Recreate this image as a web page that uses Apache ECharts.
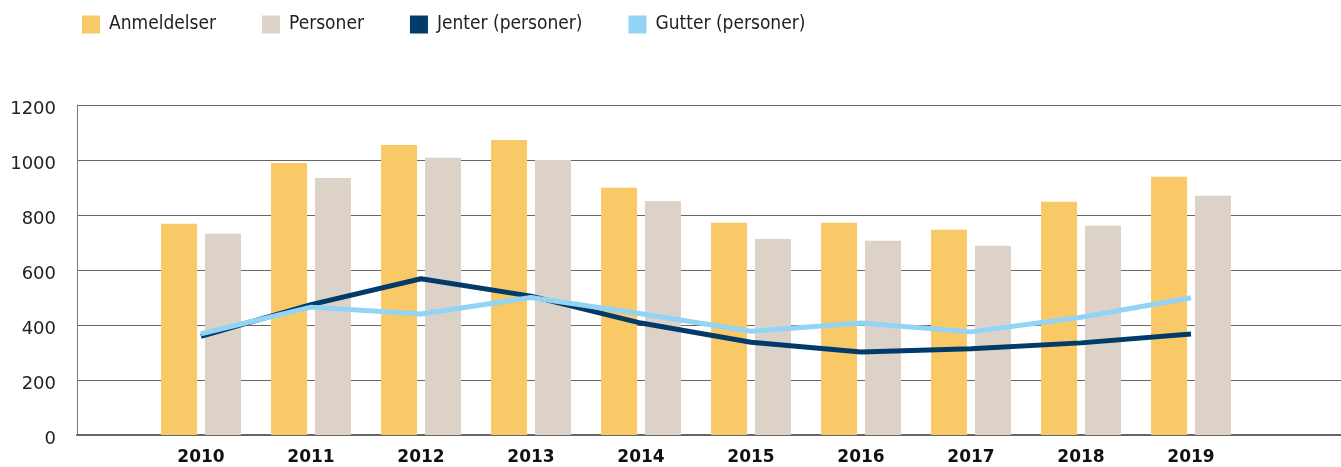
<!DOCTYPE html>
<html>
<head>
<meta charset="utf-8">
<script src="https://cdn.jsdelivr.net/npm/echarts@6/dist/echarts.min.js"></script>
<style>
  html, body { margin: 0; padding: 0; background: #fff; }
  #chart { width: 1341px; height: 467px; }
</style>
</head>
<body>
<div id="chart"></div>
<script>
// årstall
const years = ["2010", "2011", "2012", "2013", "2014", "2015", "2016", "2017", "2018", "2019"];
// søyler
const anmeldelser = [768, 989, 1055, 1073, 899, 772, 772, 746, 848, 939];
const personer = [732, 935, 1008, 1000, 851, 713, 706, 688, 761, 870];
// linjer
const jenter = [359, 474, 568, 505, 407, 337, 302, 314, 335, 367];
const gutter = [368, 465, 440, 500, 441, 377, 407, 375, 428, 499];
// y-akse
const yMin = 0, yMax = 1200, yStep = 200;

const font = "'Liberation Sans Narrow', 'DejaVu Sans Condensed', 'Roboto', sans-serif";

let myChart = echarts.init(document.getElementById("chart"));
let option = {
  animation: false,
  legend: {
    left: 77,
    top: 10,
    itemWidth: 18,
    itemHeight: 18,
    itemGap: 46,
    icon: "rect",
    textStyle: { fontFamily: font, fontSize: 19, color: "#222", padding: [0, 0, 0, 4] },
    data: ["Anmeldelser", "Personer", "Jenter (personer)", "Gutter (personer)"],
  },
  grid: [
    // ramme med rutenett
    { left: 77, right: 0, top: 105, height: 330 },
    // selve dataene
    { left: 146, width: 1100, top: 105, height: 330 },
  ],
  xAxis: [
    {
      gridIndex: 0,
      type: "value",
      min: 0,
      max: 1,
      axisLine: { show: true, lineStyle: { color: "#666", width: 2 } },
      axisTick: { show: false },
      axisLabel: { show: false },
      splitLine: { show: false },
    },
    {
      gridIndex: 1,
      type: "category",
      data: years,
      axisLine: { show: false },
      axisTick: { show: false },
      axisLabel: { margin: 14, fontFamily: "'DejaVu Sans', sans-serif", fontWeight: "bold", fontSize: 17, color: "#111" },
    },
  ],
  yAxis: [
    {
      gridIndex: 0,
      type: "value",
      min: yMin,
      max: yMax,
      interval: yStep,
      axisLine: { show: true, lineStyle: { color: "#777", width: 1 } },
      axisTick: { show: false },
      axisLabel: {
        margin: 21,
        fontFamily: "'DejaVu Sans', sans-serif",
        fontSize: 18,
        color: "#222",
        verticalAlign: "top",
        lineHeight: 8,
        formatter: (v) => String(v),
      },
      splitLine: { lineStyle: { color: "#666", width: 1.2 } },
    },
    {
      gridIndex: 1,
      type: "value",
      min: yMin,
      max: yMax,
      interval: yStep,
      show: false,
    },
  ],
  series: [
    {
      name: "Anmeldelser",
      type: "bar",
      xAxisIndex: 1,
      yAxisIndex: 1,
      barWidth: 36,
      barGap: "22%",
      itemStyle: { color: "#F8C966" },
      data: anmeldelser,
    },
    {
      name: "Personer",
      type: "bar",
      xAxisIndex: 1,
      yAxisIndex: 1,
      barWidth: 36,
      barGap: "22%",
      itemStyle: { color: "#DCD2C8" },
      data: personer,
    },
    {
      name: "Jenter (personer)",
      type: "line",
      xAxisIndex: 1,
      yAxisIndex: 1,
      symbol: "none",
      lineStyle: { color: "#003B69", width: 5 },
      itemStyle: { color: "#003B69" },
      data: jenter,
    },
    {
      name: "Gutter (personer)",
      type: "line",
      xAxisIndex: 1,
      yAxisIndex: 1,
      symbol: "none",
      lineStyle: { color: "#92D4F5", width: 5 },
      itemStyle: { color: "#92D4F5" },
      data: gutter,
    },
  ],
};
myChart.setOption(option);
</script>
</body>
</html>
